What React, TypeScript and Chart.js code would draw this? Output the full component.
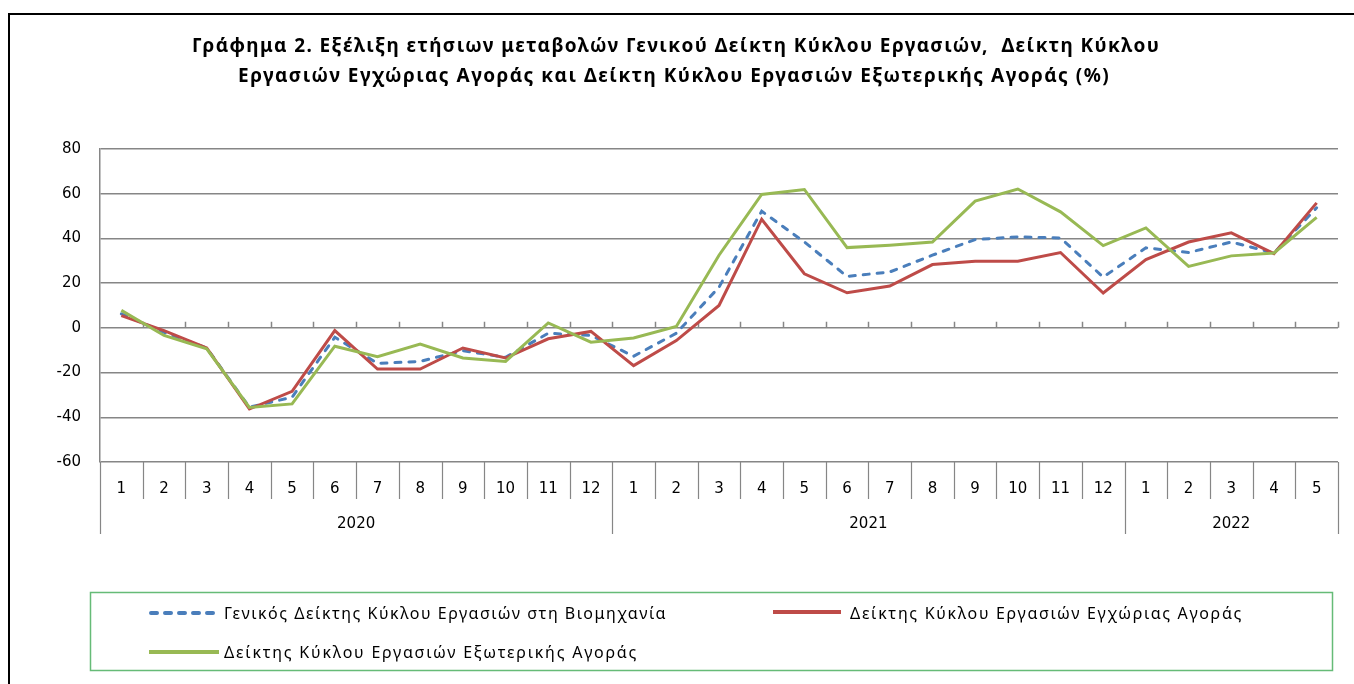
import React, { useEffect, useRef } from "react";
import { Chart, registerables } from "chart.js";

Chart.register(...registerables);

const monthLabels = [
  "1", "2", "3", "4", "5", "6", "7", "8", "9", "10", "11", "12",
  "1", "2", "3", "4", "5", "6", "7", "8", "9", "10", "11", "12",
  "1", "2", "3", "4", "5",
];
const yearLabels = ["2020", "2021", "2022"];
const monthsPerYear = [12, 12, 5];

const generalIndex = [
  6.3, -2, -9, -35.5, -31, -4.2, -15.9, -15, -10.2, -13.2, -2.4, -3.4,
  -12.7, -2.4, 18.2, 52.2, 38.4, 23, 25, 32.5, 39.5, 40.7, 40.2, 22.7,
  35.8, 33.7, 38.4, 33.5, 53.7,
];
const domesticIndex = [
  5.5, -1.2, -9, -36.3, -28.4, -1.2, -18.4, -18.4, -9, -13.5, -4.9, -1.6,
  -16.9, -5.7, 10, 48.6, 24.2, 15.7, 18.7, 28.3, 29.8, 29.8, 33.7, 15.6,
  30.5, 38.4, 42.5, 33.2, 55.9,
];
const foreignIndex = [
  7.8, -3.4, -9.4, -35.6, -34, -8.2, -12.9, -7.2, -13.5, -15, 2.2, -6.4,
  -4.5, 0.6, 32.5, 59.7, 61.9, 35.9, 37, 38.4, 56.7, 62.1, 51.9, 36.8,
  44.7, 27.5, 32.2, 33.5, 49.4,
];

const seriesNames = [
  "Γενικός Δείκτης Κύκλου Εργασιών στη Βιομηχανία",
  "Δείκτης Κύκλου Εργασιών Εγχώριας Αγοράς",
  "Δείκτης Κύκλου Εργασιών Εξωτερικής Αγοράς",
];
const titleLines = [
  "Γράφημα 2. Εξέλιξη ετήσιων μεταβολών Γενικού Δείκτη Κύκλου Εργασιών,  Δείκτη Κύκλου",
  "Εργασιών Εγχώριας Αγοράς και Δείκτη Κύκλου Εργασιών Εξωτερικής Αγοράς (%)",
];

const BLUE = "#4a7ebb";
const RED = "#be4b48";
const GREEN = "#98b954";
const GRID = "#868686";
const FONT = '"DejaVu Sans", Verdana, sans-serif';
const TEXT_FONT = '"Noto Sans", "Open Sans", sans-serif';

function drawFitted(ctx: CanvasRenderingContext2D, text: string, x: number, y: number, targetW: number) {
  const c: any = ctx;
  c.letterSpacing = "0px";
  const w0 = ctx.measureText(text).width;
  const n = Array.from(text).length;
  let ls = (targetW - w0) / n;
  ls = Math.max(-1.5, Math.min(3, ls));
  c.letterSpacing = ls.toFixed(2) + "px";
  ctx.textAlign = "left";
  ctx.fillText(text, x, y);
  c.letterSpacing = "0px";
}

const decorPlugin = {
  id: "decor",
  beforeDatasetsDraw(chart: any) {
    const ctx: CanvasRenderingContext2D = chart.ctx;
    const x = chart.scales.x;
    const y = chart.scales.y;
    const area = chart.chartArea;
    const n = monthLabels.length;
    const w = (area.right - area.left) / n;
    const y0 = y.getPixelForValue(0);
    ctx.save();
    ctx.strokeStyle = GRID;
    ctx.lineWidth = 1.5;
    ctx.beginPath();
    for (let i = 1; i <= n; i++) {
      const px = Math.round(area.left + i * w) + 0.5;
      ctx.moveTo(px, y0 - 6);
      ctx.lineTo(px, y0);
    }
    ctx.stroke();
    const bounds = new Set<number>();
    let acc = 0;
    bounds.add(0);
    monthsPerYear.forEach((m) => {
      acc += m;
      bounds.add(acc);
    });
    ctx.lineWidth = 1.2;
    ctx.beginPath();
    for (let i = 0; i <= n; i++) {
      const px = Math.round(area.left + i * w) + 0.5;
      ctx.moveTo(px, area.bottom);
      ctx.lineTo(px, bounds.has(i) ? area.bottom + 72 : area.bottom + 37);
    }
    ctx.stroke();
    ctx.fillStyle = "#000";
    ctx.font = `15px ${FONT}`;
    ctx.textAlign = "center";
    ctx.textBaseline = "middle";
    monthLabels.forEach((lab, i) => {
      ctx.fillText(lab, x.getPixelForValue(i), area.bottom + 27);
    });
    let start = 0;
    yearLabels.forEach((yl, k) => {
      const end = start + monthsPerYear[k];
      const cx = area.left + ((start + end) / 2) * w;
      ctx.fillText(yl, cx, area.bottom + 62);
      start = end;
    });
    ctx.restore();
  },
  afterDraw(chart: any) {
    const ctx: CanvasRenderingContext2D = chart.ctx;
    ctx.save();
    ctx.strokeStyle = "#000";
    ctx.lineWidth = 2;
    ctx.strokeRect(9, 14, 1500, 1000);
    ctx.fillStyle = "#000";
    ctx.textBaseline = "middle";
    ctx.font = `bold 19px ${TEXT_FONT}`;
    drawFitted(ctx, titleLines[0], 192, 47, 968);
    drawFitted(ctx, titleLines[1], 238, 77, 872);
    ctx.strokeStyle = "#66bb77";
    ctx.lineWidth = 1.5;
    ctx.strokeRect(90.5, 592.5, 1242, 78);
    ctx.lineWidth = 4;
    ctx.lineCap = "round";
    ctx.strokeStyle = BLUE;
    ctx.setLineDash([6, 8]);
    ctx.beginPath();
    ctx.moveTo(151, 613);
    ctx.lineTo(219, 613);
    ctx.stroke();
    ctx.setLineDash([]);
    ctx.lineCap = "butt";
    ctx.strokeStyle = RED;
    ctx.beginPath();
    ctx.moveTo(773, 612);
    ctx.lineTo(841, 612);
    ctx.stroke();
    ctx.strokeStyle = GREEN;
    ctx.beginPath();
    ctx.moveTo(149, 652);
    ctx.lineTo(219, 652);
    ctx.stroke();
    ctx.font = `16px ${TEXT_FONT}`;
    ctx.fillStyle = "#000";
    drawFitted(ctx, seriesNames[0], 224, 614, 443);
    drawFitted(ctx, seriesNames[1], 850, 614, 393);
    drawFitted(ctx, seriesNames[2], 224, 653, 414);
    ctx.restore();
  },
};

export default function App() {
  const ref = useRef<HTMLCanvasElement>(null);
  useEffect(() => {
    if (!ref.current) return;
    const chart = new Chart(ref.current, {
      type: "line",
      data: {
        labels: monthLabels.map((m, i) => `${i}-${m}`),
        datasets: [
          {
            label: seriesNames[0],
            data: generalIndex,
            borderColor: BLUE,
            borderWidth: 3,
            borderDash: [6, 8],
            borderCapStyle: "round",
            pointRadius: 0,
            tension: 0,
            order: 3,
          },
          {
            label: seriesNames[1],
            data: domesticIndex,
            borderColor: RED,
            borderWidth: 3,
            pointRadius: 0,
            tension: 0,
            order: 2,
          },
          {
            label: seriesNames[2],
            data: foreignIndex,
            borderColor: GREEN,
            borderWidth: 3,
            pointRadius: 0,
            tension: 0,
            order: 1,
          },
        ],
      },
      options: {
        responsive: false,
        animation: false,
        layout: { padding: { left: 8, top: 149, right: 16, bottom: 222 } },
        plugins: { legend: { display: false }, tooltip: { enabled: false }, title: { display: false } },
        scales: {
          x: { type: "category", display: false, offset: true },
          y: {
            min: -60,
            max: 80,
            afterFit: (s: any) => {
              s.width = 92;
            },
            ticks: { stepSize: 20, padding: 19, color: "#000", font: { family: FONT, size: 15 } },
            grid: { color: GRID, lineWidth: 1.5, drawTicks: false },
            border: { display: true, color: GRID, width: 1.5 },
          },
        },
      },
      plugins: [decorPlugin],
    });
    return () => chart.destroy();
  }, []);
  return (
    <div style={{ position: "fixed", left: 0, top: 0, width: 1354, height: 684, background: "#fff" }}>
      <canvas ref={ref} width={1354} height={684} style={{ display: "block" }} />
    </div>
  );
}
